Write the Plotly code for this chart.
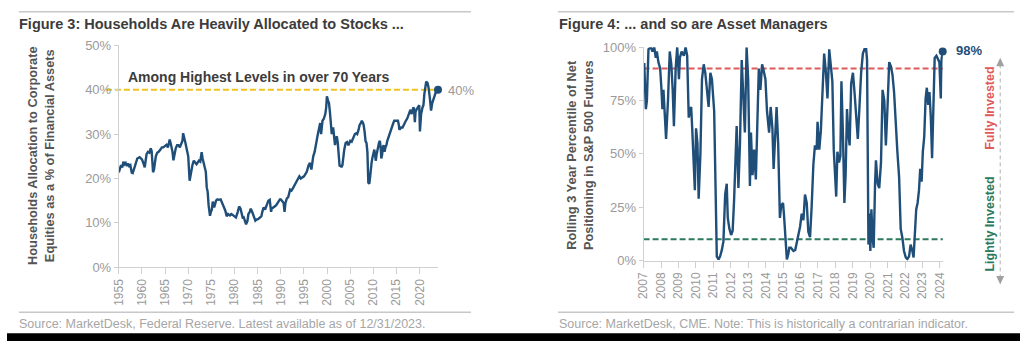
import plotly.graph_objects as go

# ---------------- DATA ----------------
# Figure 3: households allocation to corporate equities (% of financial assets)
hh_years = [1955.0, 1955.25, 1955.5, 1955.75, 1956.0, 1956.25, 1956.5, 1956.75, 1957.0, 1957.25, 1957.5, 1957.8,
            1958.0, 1958.25, 1958.5, 1958.75, 1959.0, 1959.5, 1959.75, 1960.0, 1960.3, 1960.6, 1960.8, 1961.0,
            1961.3, 1961.6, 1961.9, 1962.1, 1962.4, 1962.6, 1962.8, 1963.0, 1963.3, 1963.6, 1964.0, 1964.3,
            1964.6, 1965.0, 1965.3, 1965.6, 1966.0, 1966.3, 1966.6, 1966.8, 1967.0, 1967.3, 1967.6, 1967.9,
            1968.2, 1968.5, 1968.75, 1968.9, 1969.1, 1969.4, 1969.7, 1970.0, 1970.3, 1970.6, 1970.9, 1971.2,
            1971.5, 1971.8, 1972.0, 1972.3, 1972.6, 1972.9, 1973.1, 1973.3, 1973.6, 1973.8, 1974.0, 1974.2,
            1974.4, 1974.7, 1974.9, 1975.1, 1975.3, 1975.6, 1975.8, 1976.0, 1976.3, 1976.6, 1977.0, 1977.3,
            1977.6, 1978.0, 1978.3, 1978.6, 1979.0, 1979.3, 1979.6, 1980.0, 1980.3, 1980.7, 1981.0, 1981.3,
            1981.6, 1981.8, 1982.0, 1982.3, 1982.5, 1982.8, 1983.0, 1983.3, 1983.5, 1983.8, 1984.0, 1984.3,
            1984.5, 1984.8, 1985.0, 1985.5, 1985.8, 1986.0, 1986.3, 1986.6, 1987.0, 1987.3, 1987.6, 1987.9,
            1988.0, 1988.5, 1988.8, 1989.0, 1989.5, 1989.8, 1990.0, 1990.3, 1990.6, 1990.8, 1991.0, 1991.3,
            1991.6, 1992.0, 1992.3, 1992.6, 1993.0, 1993.3, 1993.6, 1994.0, 1994.3, 1994.6, 1995.0, 1995.3,
            1995.6, 1996.0, 1996.3, 1996.6, 1997.0, 1997.3, 1997.6, 1998.0, 1998.3, 1998.5, 1998.7, 1999.0,
            1999.3, 1999.6, 1999.8, 1999.95, 2000.2, 2000.4, 2000.6, 2000.8, 2001.0, 2001.3, 2001.5, 2001.7,
            2001.9, 2002.1, 2002.3, 2002.5, 2002.7, 2002.9, 2003.1, 2003.3, 2003.5, 2003.7, 2004.0, 2004.3,
            2004.6, 2004.8, 2005.0, 2005.3, 2005.6, 2005.8, 2006.0, 2006.3, 2006.5, 2006.8, 2007.0, 2007.3,
            2007.5, 2007.75, 2007.9, 2008.1, 2008.3, 2008.5, 2008.7, 2008.9, 2009.1, 2009.3, 2009.4, 2009.6,
            2009.75, 2010.0, 2010.2, 2010.4, 2010.5, 2010.7, 2010.8, 2011.0, 2011.2, 2011.4, 2011.6, 2011.7,
            2011.9, 2012.0, 2012.2, 2012.4, 2012.6, 2012.8, 2013.0, 2013.3, 2013.5, 2013.8, 2014.0, 2014.3,
            2014.5, 2014.8, 2015.0, 2015.3, 2015.5, 2015.6, 2015.8, 2016.0, 2016.3, 2016.5, 2016.8, 2017.0,
            2017.3, 2017.5, 2017.8, 2018.0, 2018.2, 2018.4, 2018.6, 2018.75, 2018.95, 2019.1, 2019.3, 2019.6,
            2019.9, 2020.05, 2020.3, 2020.6, 2020.8, 2021.0, 2021.2, 2021.4, 2021.7, 2021.9, 2022.2, 2022.45,
            2022.7, 2023.0, 2023.3, 2023.5, 2023.75, 2023.95]
hh_values = [21.4, 22.5, 23.0, 22.5, 23.8, 23.2, 23.5, 22.8, 23.4, 22.8, 23.0, 21.3,
             21.2, 22.0, 23.0, 24.0, 24.5, 24.8, 24.5, 24.3, 23.5, 22.5, 24.0, 25.5,
             26.0, 25.8, 26.8, 26.2, 21.4, 22.0, 23.5, 25.0, 25.8, 26.0, 26.5, 27.0,
             27.0, 27.3, 27.6, 27.0, 28.8, 27.5, 26.0, 24.1, 25.5, 26.8, 27.5, 27.5,
             27.0, 28.0, 28.5, 30.2, 29.0, 28.0, 26.5, 25.0, 19.5, 21.5, 23.0, 24.0,
             23.5, 23.2, 23.5, 24.0, 23.8, 25.9, 24.5, 23.5, 22.0, 21.5, 18.0, 17.0,
             14.0, 11.6, 12.5, 13.0, 14.8, 13.5, 14.2, 15.0, 15.3, 15.2, 15.3, 14.5,
             14.0, 12.8, 11.5, 12.0, 11.7, 12.0, 11.8, 11.5, 11.2, 12.5, 13.7, 13.2,
             12.2, 11.0, 11.2, 10.5, 9.7, 10.5, 12.0, 12.5, 13.2, 12.5, 11.8, 11.0,
             10.5, 10.8, 10.8, 11.2, 11.5, 12.5, 13.5, 13.0, 14.5, 15.0, 15.2, 12.5,
             13.2, 13.5, 13.8, 14.0, 15.0, 15.3, 15.3, 15.0, 14.5, 12.5, 14.5, 15.5,
             15.8, 17.5, 17.3, 17.8, 18.5, 19.0, 19.5, 20.5, 20.0, 20.2, 20.5, 21.0,
             21.5, 23.0, 23.5, 22.0, 25.0, 26.0, 28.0, 30.0, 31.5, 32.5, 30.0, 33.0,
             33.5, 34.5, 36.0, 38.5, 37.5, 37.0, 35.0, 33.0, 30.0, 31.5, 29.0, 27.5,
             29.0, 29.5, 28.0, 26.0, 22.7, 23.0, 22.5, 23.0, 25.0, 26.5, 28.0, 28.2,
             27.5, 28.0, 28.5, 28.3, 29.0, 29.3, 30.0, 30.2, 30.0, 31.0, 32.0, 32.5,
             33.0, 32.5, 32.0, 30.5, 28.4, 28.0, 26.0, 19.1, 18.8, 20.5, 22.0, 23.5,
             24.5, 26.0, 26.5, 25.0, 24.0, 25.5, 26.5, 27.0, 28.0, 28.5, 26.5, 24.5,
             25.5, 27.0, 27.5, 26.0, 27.0, 27.5, 28.5, 29.5, 30.0, 31.0, 32.0, 32.5,
             33.0, 33.0, 33.0, 33.0, 32.0, 31.0, 31.2, 31.5, 31.5, 32.0, 32.5, 33.0,
             33.5, 34.0, 34.8, 35.5, 34.5, 35.0, 36.0, 35.8, 32.7, 35.0, 35.5, 36.0,
             36.5, 30.6, 34.5, 36.0, 36.5, 39.0, 40.5, 41.8, 41.5, 40.5, 38.0, 35.3,
             37.0, 38.0, 38.9, 39.8, 40.3, 40.0]
hh_ref_level = 40
hh_xticks = list(range(1955, 2021, 5))
hh_ytick_vals = [0, 10, 20, 30, 40, 50]
hh_ytick_text = ["0%", "10%", "20%", "30%", "40%", "50%"]

# Figure 4: rolling 3-year percentile of asset manager net positioning in S&P 500 futures (%)
am_years = [2007.0, 2007.04, 2007.13, 2007.19, 2007.28, 2007.42, 2007.51, 2007.61, 2007.7, 2007.76, 2007.85, 2007.95,
            2008.02, 2008.08, 2008.14, 2008.21, 2008.29, 2008.4, 2008.5, 2008.59, 2008.67, 2008.74, 2008.84, 2008.93,
            2009.03, 2009.08, 2009.18, 2009.31, 2009.41, 2009.5, 2009.59, 2009.65, 2009.73, 2009.8, 2009.88, 2009.94,
            2010.01, 2010.09, 2010.16, 2010.26, 2010.35, 2010.45, 2010.54, 2010.64, 2010.73, 2010.83, 2010.92, 2011.05,
            2011.15, 2011.2, 2011.3, 2011.39, 2011.49, 2011.58, 2011.68, 2011.77, 2011.83, 2011.92, 2012.02, 2012.11,
            2012.19, 2012.28, 2012.34, 2012.44, 2012.53, 2012.63, 2012.72, 2012.81, 2012.91, 2013.0, 2013.1, 2013.16,
            2013.25, 2013.34, 2013.44, 2013.52, 2013.61, 2013.7, 2013.8, 2013.89, 2013.99, 2014.08, 2014.2, 2014.29,
            2014.39, 2014.46, 2014.58, 2014.63, 2014.72, 2014.77, 2014.82, 2014.9, 2015.0, 2015.05, 2015.12, 2015.22,
            2015.3, 2015.36, 2015.45, 2015.6, 2015.7, 2015.83, 2015.98, 2016.07, 2016.17, 2016.26, 2016.36, 2016.45,
            2016.55, 2016.64, 2016.74, 2016.83, 2016.93, 2016.98, 2017.08, 2017.17, 2017.27, 2017.36, 2017.46, 2017.55,
            2017.65, 2017.74, 2017.83, 2017.91, 2018.05, 2018.12, 2018.21, 2018.29, 2018.35, 2018.44, 2018.52, 2018.59,
            2018.67, 2018.74, 2018.82, 2018.91, 2019.01, 2019.1, 2019.2, 2019.29, 2019.39, 2019.48, 2019.58, 2019.67,
            2019.77, 2019.82, 2019.9, 2019.95, 2020.01, 2020.07, 2020.14, 2020.2, 2020.28, 2020.33, 2020.43, 2020.52,
            2020.62, 2020.71, 2020.81, 2020.9, 2021.0, 2021.09, 2021.19, 2021.28, 2021.37, 2021.47, 2021.56, 2021.66,
            2021.75, 2021.85, 2021.94, 2022.04, 2022.13, 2022.23, 2022.32, 2022.42, 2022.49, 2022.57, 2022.64, 2022.72,
            2022.8, 2022.87, 2022.95, 2023.02, 2023.1, 2023.18, 2023.25, 2023.33, 2023.4, 2023.48, 2023.55, 2023.63,
            2023.7, 2023.8, 2023.89, 2023.97, 2024.05, 2024.09, 2024.16]
am_values = [92, 92, 71, 75, 99, 100, 98, 100, 95, 98, 93, 90,
             81, 71, 80, 65, 57, 75, 98, 92, 80, 63, 90, 100,
             85, 95, 98, 96, 100, 96, 67, 70, 72, 60, 45, 33,
             62, 55, 29, 50, 85, 92, 88, 80, 72, 88, 85, 70,
             30, 2, 0.5, 2, 5, 9, 31, 36, 20, 15, 12, 14,
             28, 50, 63, 34, 55, 94, 78, 60, 100, 85, 35, 60,
             40, 52, 38, 62, 90, 80, 92, 89, 85, 70, 60, 72,
             62, 43, 60, 72, 55, 37, 20, 26, 27, 22, 13, 0.5,
             3, 6, 6, 4.5, 5, 10, 16, 22, 19, 31, 27, 13.5,
             11, 25, 45, 54, 52, 65, 52, 61, 84, 97, 88, 76,
             99, 92, 84, 52, 30, 51, 46, 49, 84, 58, 27, 40,
             71, 60, 54, 83, 88, 79, 66, 57, 73, 88, 97, 99,
             99, 94, 7.5, 22, 4.5, 24, 10.5, 6, 36, 47, 36, 34,
             46, 80, 75, 54, 73, 93, 91, 87, 79, 60, 51, 39,
             15, 10.5, 4.5, 1.5, 0.7, 2, 7.5, 4.5, 1.5, 13.5, 24, 27,
             33, 43, 37, 51, 58, 76, 81, 73, 79, 67, 48, 73,
             95, 96, 94, 93, 76, 94, 98]
am_fully_level = 90
am_lightly_level = 10
am_xticks = list(range(2007, 2025))
am_ytick_vals = [0, 25, 50, 75, 100]
am_ytick_text = ["0%", "25%", "50%", "75%", "100%"]

# ---------------- STYLE / LAYOUT ----------------
W, H = 1024, 349
FONT = "Liberation Sans, Arial, sans-serif"
NAVY = "#1f4e79"
GRAY_TICK = "#9a9a9a"
AXIS = "#d0d0d0"
DARK = "#3c3c3c"
YELLOW = "#f0c21c"
RED = "#e05a5a"
GREEN = "#2c7a5c"


def px(x):
    return x / W


def py(y):
    return 1 - y / H


fig = go.Figure()

fig.add_trace(go.Scatter(x=hh_years, y=hh_values, mode="lines",
                         line=dict(color=NAVY, width=2.4), xaxis="x", yaxis="y",
                         hoverinfo="skip", showlegend=False))
fig.add_trace(go.Scatter(x=[hh_years[-1]], y=[hh_values[-1]], mode="markers",
                         marker=dict(color=NAVY, size=8), xaxis="x", yaxis="y",
                         cliponaxis=False, hoverinfo="skip", showlegend=False))
fig.add_trace(go.Scatter(x=am_years, y=am_values, mode="lines",
                         line=dict(color=NAVY, width=2.4), xaxis="x2", yaxis="y2",
                         hoverinfo="skip", showlegend=False))
fig.add_trace(go.Scatter(x=[am_years[-1]], y=[am_values[-1]], mode="markers",
                         marker=dict(color=NAVY, size=8), xaxis="x2", yaxis="y2",
                         cliponaxis=False, hoverinfo="skip", showlegend=False))

L0, L1 = 113, 436
ppy_l = 4.68
R0, R1 = 643.5, 946
ppy_r = 17.62

tickfont = dict(family=FONT, size=12, color=GRAY_TICK)
common_x = dict(showgrid=False, zeroline=False, showline=True, linecolor=AXIS, linewidth=1,
                ticks="outside", ticklen=6, tickcolor=AXIS, tickangle=-90, tickfont=tickfont,
                fixedrange=True)
common_y = dict(showgrid=False, zeroline=False, showline=True, linecolor=AXIS, linewidth=1,
                ticks="outside", ticklen=4, tickcolor=AXIS,
                tickfont=dict(family=FONT, size=13, color=GRAY_TICK), fixedrange=True)

fig.update_layout(
    width=W, height=H, margin=dict(l=0, r=0, t=0, b=0),
    paper_bgcolor="white", plot_bgcolor="white", showlegend=False,
    xaxis=dict(domain=[px(L0), px(L1)], range=[1955, 1955 + (L1 - L0) / ppy_l],
               tickvals=hh_xticks, ticktext=[str(v) for v in hh_xticks], anchor="y", **common_x),
    yaxis=dict(domain=[py(272), py(40)], range=[0, 50], tickvals=hh_ytick_vals,
               ticktext=hh_ytick_text, anchor="x", **common_y),
    xaxis2=dict(domain=[px(R0), px(R1)], range=[2007, 2007 + (R1 - R0) / ppy_r],
                tickvals=am_xticks, ticktext=[str(v) for v in am_xticks], anchor="y2", **common_x),
    yaxis2=dict(domain=[py(265), py(42)], range=[0, 100], tickvals=am_ytick_vals,
                ticktext=am_ytick_text, anchor="x2", **common_y),
)

shapes = []
shapes.append(dict(type="line", xref="paper", yref="y", x0=px(100), x1=px(436), y0=hh_ref_level, y1=hh_ref_level,
                   line=dict(color=YELLOW, width=2, dash="6px,3px"), layer="below"))
shapes.append(dict(type="line", xref="paper", yref="y2", x0=px(R0), x1=px(946), y0=am_fully_level, y1=am_fully_level,
                   line=dict(color=RED, width=2, dash="6px,3px"), layer="below"))
shapes.append(dict(type="line", xref="paper", yref="y2", x0=px(R0), x1=px(946), y0=am_lightly_level, y1=am_lightly_level,
                   line=dict(color=GREEN, width=2, dash="6px,3px"), layer="below"))
for (a, b) in [(12, 469), (557, 1018)]:
    shapes.append(dict(type="line", xref="paper", yref="paper", x0=px(a), x1=px(b), y0=py(5), y1=py(5),
                       line=dict(color="#c8c8c8", width=1.5)))
    shapes.append(dict(type="line", xref="paper", yref="paper", x0=px(a), x1=px(b), y0=py(319), y1=py(319),
                       line=dict(color="#c8c8c8", width=1.5)))
shapes.append(dict(type="rect", xref="paper", yref="paper", x0=0, x1=1, y0=0, y1=py(341),
                   fillcolor="black", line=dict(width=0)))
AX = 1004
shapes.append(dict(type="line", xref="paper", yref="paper", x0=px(AX), x1=px(AX), y0=py(60), y1=py(283),
                   line=dict(color="#b0b0b0", width=1, dash="4px,3px")))
shapes.append(dict(type="path", xref="paper", yref="paper",
                   path=f"M {px(AX)},{py(53)} L {px(AX - 4)},{py(62)} L {px(AX + 4)},{py(62)} Z",
                   fillcolor="#a0a0a0", line=dict(width=0)))
shapes.append(dict(type="path", xref="paper", yref="paper",
                   path=f"M {px(AX)},{py(290)} L {px(AX - 4)},{py(281)} L {px(AX + 4)},{py(281)} Z",
                   fillcolor="#a0a0a0", line=dict(width=0)))
fig.update_layout(shapes=shapes)


def ann(text, x, y, size, color, bold=False, xanchor="left", angle=0, yanchor="middle"):
    return dict(text=f"<b>{text}</b>" if bold else text, x=px(x), y=py(y), xref="paper", yref="paper",
                xanchor=xanchor, yanchor=yanchor, showarrow=False, textangle=angle, borderpad=0,
                font=dict(family=FONT, size=size, color=color))


annotations = [
    ann("Figure 3: Households Are Heavily Allocated to Stocks ...", 11, 18, 14.5, DARK, bold=True),
    ann("Figure 4: ... and so are Asset Managers", 557, 18, 14.5, DARK, bold=True),
    ann("Households Allocation to Corporate<br>Equities as a % of Financial Assets", 35, 155, 12.8, "#555555",
        bold=True, xanchor="center", angle=-90),
    ann("Rolling 3 Year Percentile of Net<br>Positioning in S&P 500 Futures", 580, 155, 12.8, "#555555",
        bold=True, xanchor="center", angle=-90),
    ann("Among Highest Levels in over 70 Years", 121, 73, 14, DARK, bold=True),
    ann("40%", 445, 87, 13, GRAY_TICK),
    ann("98%", 958, 45, 13, NAVY, bold=True),
    ann("Fully Invested", 994, 106, 12.5, RED, bold=True, xanchor="center", angle=-90),
    ann("Lightly Invested", 994, 227, 12.5, GREEN, bold=True, xanchor="center", angle=-90),
    ann("Source: MarketDesk, Federal Reserve. Latest available as of 12/31/2023.", 11, 331, 12.5, "#a6a6a6"),
    ann("Source: MarketDesk, CME. Note: This is historically a contrarian indicator.", 557, 331, 12.5, "#a6a6a6"),
]
fig.update_layout(annotations=annotations)

fig.write_html("out.html", config={"displayModeBar": False})
